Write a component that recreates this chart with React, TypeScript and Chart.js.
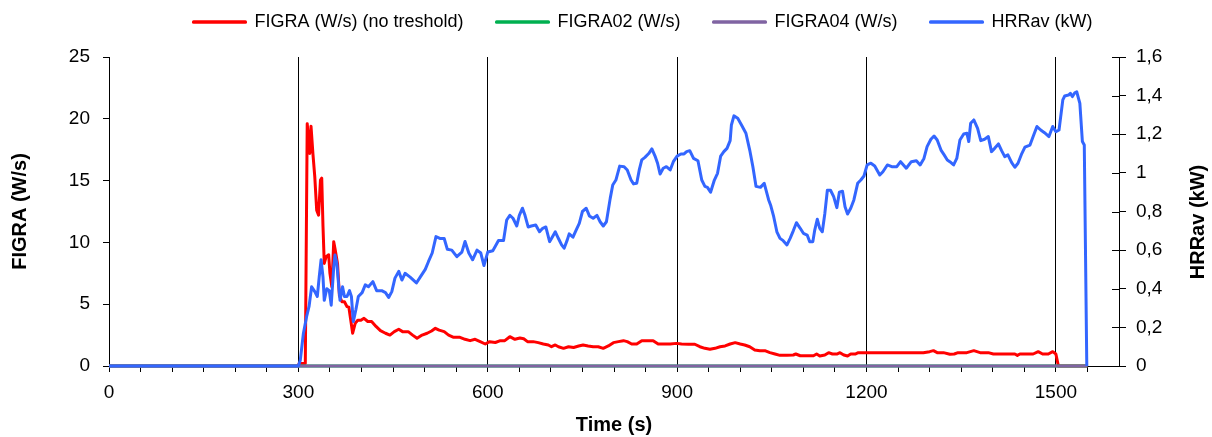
import React, { useEffect, useRef } from "react";
import { Chart, registerables } from "chart.js";

Chart.register(...registerables);

// FIGRA (W/s) (no treshold)
const figraTime = [0, 300, 301, 311, 314, 318, 320, 323, 326, 329, 332, 335, 337, 339, 341, 344, 348, 350, 353, 356, 358, 362, 365, 369, 373, 377, 380, 383, 386, 390, 394, 399, 404, 410, 416, 423, 430, 438, 445, 452, 459, 465, 474, 481, 488, 496, 504, 511, 517, 523, 531, 538, 546, 556, 564, 572, 580, 588, 596, 603, 612, 620, 627, 635, 643, 651, 657, 663, 672, 680, 688, 696, 701, 707, 712, 720, 728, 736, 744, 751, 759, 767, 775, 783, 791, 799, 807, 815, 821, 828, 836, 844, 852, 862, 870, 878, 889, 899, 907, 918, 928, 936, 944, 952, 960, 968, 976, 984, 992, 1000, 1007, 1015, 1023, 1031, 1039, 1047, 1055, 1063, 1074, 1084, 1088, 1095, 1105, 1116, 1121, 1126, 1134, 1140, 1146, 1153, 1158, 1164, 1170, 1175, 1182, 1187, 1290, 1300, 1306, 1312, 1322, 1332, 1339, 1345, 1359, 1370, 1380, 1393, 1401, 1435, 1439, 1443, 1464, 1472, 1479, 1488, 1495, 1500, 1504, 1550];
const figraValues = [0, 0, 0.2, 0.2, 19.6, 17.2, 19.4, 17.2, 15.3, 12.6, 12.2, 15.05, 15.2, 11.3, 8.3, 8.85, 9.0, 7.5, 6.4, 10.06, 9.5, 8.3, 5.7, 5.2, 5.2, 4.8, 4.75, 3.7, 2.65, 3.45, 3.7, 3.7, 3.86, 3.6, 3.6, 3.2, 2.86, 2.65, 2.5, 2.78, 2.97, 2.78, 2.78, 2.5, 2.24, 2.5, 2.65, 2.83, 3.05, 2.9, 2.78, 2.5, 2.32, 2.32, 2.16, 2.05, 2.16, 1.97, 1.78, 1.97, 1.9, 2.05, 2.05, 2.37, 2.16, 2.26, 2.2, 1.97, 1.97, 1.89, 1.78, 1.7, 1.56, 1.7, 1.56, 1.43, 1.56, 1.5, 1.62, 1.7, 1.62, 1.56, 1.56, 1.43, 1.62, 1.89, 1.97, 2.05, 1.97, 1.78, 1.78, 2.05, 2.05, 2.05, 1.78, 1.78, 1.78, 1.83, 1.78, 1.76, 1.76, 1.56, 1.43, 1.35, 1.43, 1.56, 1.62, 1.78, 1.89, 1.78, 1.7, 1.56, 1.3, 1.24, 1.24, 1.08, 0.97, 0.86, 0.86, 0.89, 0.97, 0.83, 0.83, 0.83, 0.97, 0.81, 0.89, 1.08, 0.97, 0.97, 1.08, 0.89, 0.81, 0.97, 0.97, 1.08, 1.08, 1.16, 1.24, 1.08, 1.08, 0.95, 0.97, 1.08, 1.08, 1.24, 1.08, 1.08, 0.97, 0.97, 0.86, 0.97, 0.97, 1.16, 0.97, 0.97, 1.16, 0.97, 0, 0];

// FIGRA02 (W/s)
const figra02Time = [0, 1550];
const figra02Values = [0, 0];

// FIGRA04 (W/s)
const figra04Time = [0, 1550];
const figra04Values = [0, 0];

// HRRav (kW)
const hrrTime = [0, 300, 303, 308, 313, 317, 321, 326, 330, 333, 336, 339, 341, 345, 349, 352, 356, 358, 361, 364, 366, 370, 373, 377, 381, 384, 387, 391, 395, 401, 406, 411, 418, 424, 432, 438, 443, 448, 453, 459, 464, 469, 477, 487, 493, 501, 506, 512, 518, 525, 531, 536, 543, 551, 559, 564, 570, 576, 583, 589, 594, 600, 608, 612, 617, 625, 630, 635, 640, 646, 650, 655, 659, 664, 669, 676, 682, 687, 692, 698, 701, 707, 712, 717, 721, 726, 729, 735, 740, 745, 750, 756, 761, 767, 773, 778, 783, 788, 794, 798, 803, 809, 816, 821, 827, 831, 836, 840, 844, 849, 855, 860, 865, 869, 873, 878, 883, 889, 894, 900, 906, 911, 915, 920, 926, 933, 939, 944, 948, 953, 959, 964, 969, 974, 979, 984, 986, 990, 996, 1002, 1009, 1015, 1020, 1025, 1032, 1038, 1045, 1048, 1053, 1058, 1063, 1068, 1074, 1079, 1084, 1089, 1095, 1100, 1106, 1110, 1115, 1118, 1122, 1126, 1130, 1134, 1138, 1143, 1148, 1153, 1157, 1162, 1166, 1170, 1175, 1180, 1186, 1191, 1196, 1201, 1207, 1213, 1221, 1226, 1233, 1240, 1248, 1254, 1263, 1271, 1279, 1285, 1291, 1296, 1302, 1307, 1312, 1318, 1323, 1328, 1332, 1338, 1343, 1348, 1354, 1359, 1362, 1365, 1370, 1376, 1381, 1387, 1393, 1398, 1403, 1409, 1414, 1419, 1424, 1430, 1435, 1440, 1446, 1451, 1459, 1464, 1470, 1476, 1482, 1489, 1495, 1500, 1505, 1511, 1514, 1520, 1523, 1526, 1530, 1533, 1538, 1542, 1545, 1549];
const hrrValues = [0, 0, 0.03, 0.17, 0.255, 0.31, 0.41, 0.385, 0.36, 0.46, 0.55, 0.46, 0.34, 0.4, 0.39, 0.315, 0.51, 0.575, 0.53, 0.41, 0.34, 0.41, 0.36, 0.36, 0.39, 0.36, 0.23, 0.29, 0.36, 0.38, 0.42, 0.41, 0.437, 0.39, 0.39, 0.38, 0.355, 0.385, 0.455, 0.49, 0.445, 0.48, 0.46, 0.43, 0.46, 0.5, 0.54, 0.585, 0.67, 0.66, 0.66, 0.604, 0.6, 0.566, 0.59, 0.645, 0.585, 0.55, 0.6, 0.585, 0.52, 0.59, 0.597, 0.62, 0.65, 0.65, 0.756, 0.78, 0.765, 0.725, 0.78, 0.817, 0.78, 0.72, 0.725, 0.73, 0.695, 0.713, 0.72, 0.644, 0.66, 0.695, 0.66, 0.627, 0.61, 0.653, 0.684, 0.667, 0.704, 0.739, 0.8, 0.817, 0.777, 0.765, 0.78, 0.747, 0.725, 0.747, 0.868, 0.937, 0.963, 1.035, 1.032, 1.015, 0.963, 0.943, 0.946, 1.015, 1.067, 1.08, 1.1, 1.124, 1.087, 1.05, 0.994, 1.024, 1.032, 1.015, 1.058, 1.087, 1.098, 1.098, 1.11, 1.115, 1.075, 1.063, 0.963, 0.93, 0.925, 0.9, 0.963, 0.998, 1.087, 1.11, 1.127, 1.167, 1.248, 1.295, 1.283, 1.248, 1.205, 1.118, 1.032, 0.93, 0.925, 0.946, 0.86, 0.834, 0.773, 0.695, 0.661, 0.649, 0.627, 0.661, 0.7, 0.742, 0.713, 0.687, 0.678, 0.644, 0.644, 0.704, 0.76, 0.713, 0.695, 0.79, 0.91, 0.91, 0.877, 0.82, 0.9, 0.905, 0.825, 0.787, 0.817, 0.86, 0.946, 0.963, 0.984, 1.041, 1.05, 1.036, 0.989, 1.006, 1.041, 1.032, 1.032, 1.058, 1.024, 1.058, 1.063, 1.041, 1.075, 1.136, 1.174, 1.191, 1.17, 1.118, 1.093, 1.067, 1.058, 1.041, 1.075, 1.17, 1.201, 1.205, 1.162, 1.257, 1.274, 1.231, 1.167, 1.174, 1.188, 1.11, 1.127, 1.15, 1.115, 1.084, 1.093, 1.053, 1.029, 1.05, 1.1, 1.133, 1.144, 1.188, 1.24, 1.222, 1.208, 1.188, 1.24, 1.213, 1.222, 1.378, 1.398, 1.403, 1.412, 1.395, 1.415, 1.42, 1.36, 1.162, 1.144, 0];

const seriesLabels = ["FIGRA (W/s) (no treshold)", "FIGRA02 (W/s)", "FIGRA04 (W/s)", "HRRav (kW)"];
const seriesColors = ["#FF0000", "#00B050", "#8064A2", "#3366FF"];

const xTitle = "Time (s)";
const leftTitle = "FIGRA (W/s)";
const rightTitle = "HRRav (kW)";

const xMin = 0;
const xMax = 1600;
const xMinorStep = 50;
const xLabelStep = 300;
const leftMax = 25;
const leftStep = 5;
const rightMax = 1.6;
const rightStep = 0.2;

const FONT = "'Liberation Sans', Arial, sans-serif";

const toPoints = (xs: number[], ys: number[]) => xs.map((x, i) => ({ x, y: ys[i] }));

const rightAxisExtras = {
  id: "rightAxisExtras",
  afterDraw(chart: any) {
    const s = chart.scales.y1;
    const ctx = chart.ctx;
    ctx.save();
    ctx.strokeStyle = "#000";
    ctx.lineWidth = 1;
    s.ticks.forEach((t: any) => {
      const y = Math.round(s.getPixelForValue(t.value)) + 0.5;
      ctx.beginPath();
      ctx.moveTo(s.left - 7, y);
      ctx.lineTo(s.left, y);
      ctx.stroke();
    });
    // right axis title, reading bottom-to-top
    ctx.translate(1198, 222);
    ctx.rotate(-Math.PI / 2);
    ctx.fillStyle = "#000";
    ctx.font = `bold 20px ${FONT}`;
    ctx.textAlign = "center";
    ctx.textBaseline = "middle";
    ctx.fillText(rightTitle, 0, 0);
    ctx.restore();
  },
};

export default function App() {
  const ref = useRef<HTMLCanvasElement | null>(null);

  useEffect(() => {
    if (!ref.current) return;
    const mk = (i: number, xs: number[], ys: number[], axis: string, order: number) => ({
      label: seriesLabels[i],
      data: toPoints(xs, ys),
      borderColor: seriesColors[i],
      backgroundColor: seriesColors[i],
      borderWidth: 3,
      pointRadius: 0,
      pointHoverRadius: 0,
      tension: 0,
      borderJoinStyle: "round",
      borderCapStyle: "butt",
      clip: 4,
      yAxisID: axis,
      order,
    });
    const chart = new Chart(ref.current, {
      type: "line",
      data: {
        datasets: [
          mk(0, figraTime, figraValues, "y", 4),
          mk(1, figra02Time, figra02Values, "y", 3),
          mk(2, figra04Time, figra04Values, "y", 2),
          mk(3, hrrTime, hrrValues, "y1", 1),
        ] as any,
      },
      options: {
        animation: false,
        responsive: false,
        maintainAspectRatio: false,
        layout: { padding: { top: -20, left: 0, right: -74, bottom: 0 } },
        plugins: {
          tooltip: { enabled: false },
          legend: {
            display: true,
            position: "top",
            align: "center",
            labels: {
              boxWidth: 52,
              boxHeight: 0.5,
              padding: 33,
              color: "#000",
              font: { family: FONT, size: 18 },
              sort: (a: any, b: any) => a.datasetIndex - b.datasetIndex,
            },
          },
          title: {
            display: true,
            text: " ",
            weight: 500,
            padding: 0,
            font: { family: FONT, size: 16, lineHeight: 1 },
          } as any,
        },
        scales: {
          x: {
            type: "linear",
            min: xMin,
            max: xMax,
            afterFit: (s: any) => {
              s.height = 71;
            },
            border: { display: true, color: "#000", width: 1 },
            grid: {
              drawOnChartArea: true,
              drawTicks: true,
              tickLength: 6,
              lineWidth: 1,
              color: (c: any) => {
                const v = c.tick ? c.tick.value : -1;
                return v > 0 && v < xMax && v % xLabelStep === 0 ? "#000" : "rgba(0,0,0,0)";
              },
              tickColor: (c: any) => {
                const v = c.tick ? c.tick.value : -1;
                return v === xMax ? "rgba(0,0,0,0)" : "#000";
              },
            },
            ticks: {
              stepSize: xMinorStep,
              autoSkip: false,
              maxRotation: 0,
              minRotation: 0,
              padding: 9,
              color: "#000",
              font: { family: FONT, size: 19 },
              callback: (v: any) => (Number(v) % xLabelStep === 0 ? String(v) : ""),
            },
            title: {
              display: true,
              text: xTitle,
              color: "#000",
              padding: { top: 0, bottom: 0 },
              font: { family: FONT, size: 20, weight: "bold" },
            },
          },
          y: {
            type: "linear",
            position: "left",
            min: 0,
            max: leftMax,
            afterFit: (s: any) => {
              s.width = 109;
            },
            border: { display: true, color: "#000", width: 1 },
            grid: { drawOnChartArea: false, drawTicks: true, tickLength: 6, color: "#000", tickColor: "#000" },
            ticks: {
              stepSize: leftStep,
              padding: 13,
              color: "#000",
              font: { family: FONT, size: 19 },
            },
            title: {
              display: true,
              text: leftTitle,
              color: "#000",
              padding: { top: 8, bottom: 0 },
              font: { family: FONT, size: 20, weight: "bold" },
            },
          },
          y1: {
            type: "linear",
            position: "right",
            min: 0,
            max: rightMax,
            afterFit: (s: any) => {
              s.width = 167;
            },
            border: { display: true, color: "#000", width: 1 },
            grid: { drawOnChartArea: false, drawTicks: true, tickLength: 7, color: "#000", tickColor: "#000" },
            ticks: {
              stepSize: rightStep,
              padding: 10,
              color: "#000",
              font: { family: FONT, size: 19 },
              callback: (v: any) => Number(Number(v).toFixed(1)).toString().replace(".", ","),
            },
            title: { display: false },
          },
        },
      } as any,
      plugins: [rightAxisExtras],
    });
    return () => chart.destroy();
  }, []);

  return (
    <div style={{ position: "absolute", left: 0, top: 0, width: 1212, height: 437, background: "#fff" }}>
      <canvas ref={ref} width={1212} height={437} style={{ display: "block", width: 1212, height: 437 }} />
    </div>
  );
}
